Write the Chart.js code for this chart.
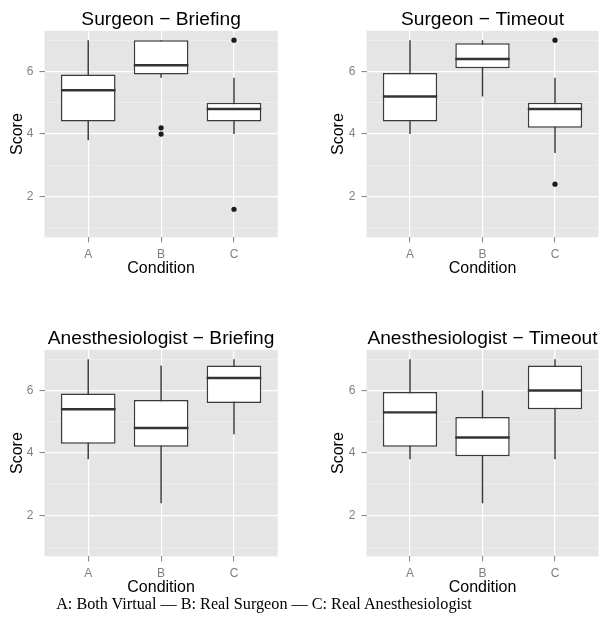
<!DOCTYPE html>
<html><head><meta charset="utf-8">
<script src="https://cdn.jsdelivr.net/npm/chart.js@4"></script>
<style>
body{margin:0;background:#fff;}
#wrap{position:relative;width:603px;height:640px;overflow:hidden;}
canvas{position:absolute;}
#caption{position:absolute;left:0;width:528px;top:595.5px;text-align:center;font:16.2px/16px "Liberation Serif","Times New Roman",serif;color:#000;white-space:nowrap;}
</style></head><body>
<div id="wrap">
<canvas id="c1" width="300" height="280" style="left:0;top:0"></canvas>
<canvas id="c2" width="303" height="280" style="left:300px;top:0"></canvas>
<canvas id="c3" width="300" height="280" style="left:0;top:319px"></canvas>
<canvas id="c4" width="303" height="280" style="left:300px;top:319px"></canvas>
<div id="caption">A: Both Virtual — B: Real Surgeon — C: Real Anesthesiologist</div>
</div>
<script>
// ---- data ----
const categories = ['A', 'B', 'C'];
const yTickValues = [2, 4, 6];
const yGridValues = [1, 2, 3, 4, 5, 6, 7];
const panelTitles = ['Surgeon \u2212 Briefing', 'Surgeon \u2212 Timeout',
                     'Anesthesiologist \u2212 Briefing', 'Anesthesiologist \u2212 Timeout'];
// [lower whisker, Q1, median, Q3, upper whisker] per condition A, B, C
const surgeonBriefing = [[3.8, 4.4, 5.4, 5.9, 7.0], [5.8, 5.9, 6.2, 7.0, 7.0], [4.0, 4.4, 4.8, 5.0, 5.8]];
const surgeonBriefingOutliers = [[], [4.2, 4.0], [7.0, 1.6]];
const surgeonTimeout = [[4.0, 4.4, 5.2, 5.95, 7.0], [5.2, 6.1, 6.4, 6.9, 7.0], [3.4, 4.2, 4.8, 5.0, 5.8]];
const surgeonTimeoutOutliers = [[], [], [7.0, 2.4]];
const anesBriefing = [[3.8, 4.3, 5.4, 5.9, 7.0], [2.4, 4.2, 4.8, 5.7, 6.8], [4.6, 5.6, 6.4, 6.8, 7.0]];
const anesBriefingOutliers = [[], [], []];
const anesTimeout = [[3.8, 4.2, 5.3, 5.95, 7.0], [2.4, 3.9, 4.5, 5.15, 6.0], [3.8, 5.4, 6.0, 6.8, 7.0]];
const anesTimeoutOutliers = [[], [], []];

// ---- styling ----
const SANS = "'Liberation Sans', Arial, Helvetica, sans-serif";
const BOX_HALF = 0.375;
const panelBg = {
  id: 'panelBg',
  beforeDraw(chart) {
    const a = chart.chartArea, c = chart.ctx;
    c.save(); c.fillStyle = '#e5e5e5';
    c.fillRect(a.left, a.top, a.right - a.left, a.bottom - a.top);
    c.restore();
  }
};

function makeChart(id, title, stats, outliers, yAxisWidth, padRight, scorePad) {
  const boxes = stats.map((s, i) => ({ x: i + 1, y: [s[1], s[3]] }));
  const whiskers = [], medians = [], points = [];
  stats.forEach((s, i) => {
    whiskers.push({ x: i + 1, y: s[0] }, { x: i + 1, y: s[4] }, { x: i + 1.5, y: null });
    medians.push({ x: i + 1 - BOX_HALF, y: s[2] }, { x: i + 1 + BOX_HALF, y: s[2] }, { x: i + 1.5, y: null });
  });
  outliers.forEach((arr, i) => arr.forEach(v => points.push({ x: i + 1, y: v })));
  const isMajor = ctx => ctx.tick && yTickValues.includes(ctx.tick.value);

  return new Chart(document.getElementById(id), {
    type: 'bar',
    data: {
      datasets: [
        { type: 'line', data: whiskers, borderColor: '#333333', borderWidth: 1.4, pointRadius: 0, spanGaps: false, order: 3 },
        { type: 'bar', data: boxes, backgroundColor: '#ffffff', borderColor: '#3a3a3a', borderWidth: 1.5,
          borderSkipped: false, categoryPercentage: 1, barPercentage: 0.75, order: 2 },
        { type: 'line', data: medians, borderColor: '#333333', borderWidth: 2.4, pointRadius: 0, spanGaps: false, order: 1 },
        { type: 'scatter', data: points, pointRadius: 2.6, backgroundColor: '#1a1a1a', borderWidth: 0, order: 0 }
      ]
    },
    options: {
      responsive: false, animation: false, devicePixelRatio: 1,
      layout: { padding: { left: 0, right: padRight, top: 0, bottom: 0 } },
      plugins: {
        legend: { display: false }, tooltip: { enabled: false },
        title: { display: true, text: title, fullSize: false, color: '#000',
                 font: { family: SANS, size: 19.2, weight: 'normal', lineHeight: 1 },
                 padding: { top: 10.6, bottom: 1 } }
      },
      scales: {
        x: {
          type: 'linear', min: 0.4, max: 3.6, offset: false,
          afterBuildTicks: s => { s.ticks = categories.map((c, i) => ({ value: i + 1 })); },
          afterFit: s => { s.height = 42.6; },
          ticks: { callback: v => categories[v - 1] || '', color: '#7f7f7f', padding: 5.4,
                   font: { family: SANS, size: 12 }, maxRotation: 0, autoSkip: false },
          grid: { offset: false, color: '#ffffff', lineWidth: 1.2, tickColor: '#7f7f7f', tickLength: 5, tickWidth: 1 },
          border: { display: false },
          title: { display: true, text: 'Condition', color: '#000', font: { family: SANS, size: 16 },
                   padding: { top: 0, bottom: 1.4 } }
        },
        y: {
          type: 'linear', min: 0.7, max: 7.3, beginAtZero: false,
          afterBuildTicks: s => { s.ticks = yGridValues.map(v => ({ value: v })); },
          afterFit: s => { s.width = yAxisWidth; },
          ticks: { callback: v => yTickValues.includes(v) ? String(v) : '', color: '#7f7f7f', padding: 6.2,
                   font: { family: SANS, size: 12 }, autoSkip: false },
          grid: {
            color: ctx => isMajor(ctx) ? '#ffffff' : '#f2f2f2',
            lineWidth: ctx => isMajor(ctx) ? 1.2 : 0.6,
            tickColor: ctx => isMajor(ctx) ? '#7f7f7f' : 'rgba(0,0,0,0)',
            tickLength: 5, tickWidth: 1
          },
          border: { display: false },
          title: { display: true, text: 'Score', color: '#000', font: { family: SANS, size: 16 },
                   padding: { top: scorePad, bottom: 0 } }
        }
      }
    },
    plugins: [panelBg]
  });
}

makeChart('c1', panelTitles[0], surgeonBriefing, surgeonBriefingOutliers, 44.5, 22.3, 8.1);
makeChart('c2', panelTitles[1], surgeonTimeout, surgeonTimeoutOutliers, 66.5, 4.5, 28.6);
makeChart('c3', panelTitles[2], anesBriefing, anesBriefingOutliers, 44.5, 22.3, 8.1);
makeChart('c4', panelTitles[3], anesTimeout, anesTimeoutOutliers, 66.5, 4.5, 28.6);
</script>
</body></html>
